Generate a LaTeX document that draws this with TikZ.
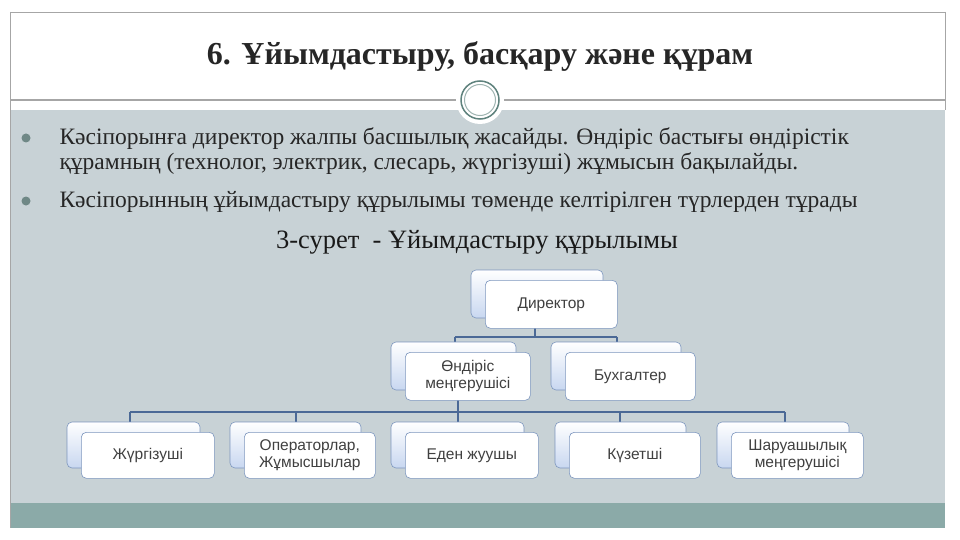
\documentclass[tikz,border=0pt]{standalone}
\usepackage{fontspec}
\setmainfont{Liberation Serif}
\newfontfamily\boxfont{Liberation Sans}
\usetikzlibrary{positioning}
\definecolor{bodygray}{RGB}{200,210,214}
\definecolor{barteal}{RGB}{139,170,168}
\definecolor{boxline}{RGB}{125,150,190}
\definecolor{conn}{RGB}{75,105,150}
\definecolor{backfill}{RGB}{200,215,240}
\definecolor{ring}{RGB}{95,130,125}
\tikzset{
 backbox/.style={draw=boxline, rounded corners=5pt, top color=white, bottom color=backfill, line width=0.6pt},
 frontbox/.style={draw=boxline, rounded corners=5pt, fill=white, line width=0.6pt, font=\boxfont\fontsize{15.5}{17}\selectfont, text=black!75, align=center},
 connector/.style={draw=conn, line width=2pt},
 bullettext/.style={anchor=west, font=\fontsize{23.5}{26}\selectfont, text=black!85},
}
\begin{document}
\begin{tikzpicture}[x=1pt,y=-1pt]
\useasboundingbox (0,0) rectangle (960,540);
\fill[white] (0,0) rectangle (960,540);
\fill[bodygray] (10,110) rectangle (945,503);
\fill[barteal] (10,503) rectangle (945,528);
\draw[gray!70, line width=0.8pt] (10,12) -- (945,12);
\draw[gray!70, line width=0.8pt] (10,12) -- (10,528);
\draw[gray!70, line width=0.8pt] (945,12) -- (945,110);
\draw[gray!70, line width=1.5pt] (10,100) -- (945,100);
\node[font=\bfseries\fontsize{32}{34}\selectfont, text=black!85] (title) at (480,57) {6. Ұйымдастыру, басқару және құрам};
\fill[white] (480,100) circle (24);
\draw[ring, line width=1.5pt] (480,100) circle (19);
\draw[ring!60, line width=1pt] (480,100) circle (15.5);
\fill[barteal!80!black] (26,138) circle (4.5);
\fill[barteal!80!black] (26,201) circle (4.5);
\node[bullettext] (b1) at (56,139) {Кәсіпорынға директор жалпы басшылық жасайды. Өндіріс бастығы өндірістік};
\node[bullettext] (b2) at (56,164) {құрамның (технолог, электрик, слесарь, жүргізуші) жұмысын бақылайды.};
\node[bullettext] (b3) at (56,202) {Кәсіпорынның ұйымдастыру құрылымы төменде келтірілген түрлерден тұрады};
\node[font=\fontsize{26.5}{28}\selectfont, text=black!90] (cap) at (477,242) {3-сурет \ - Ұйымдастыру құрылымы};
% connectors
\coordinate (j1) at (535,337);
\coordinate (j2) at (458,412);
\draw[connector] (535,328) -- (j1);
\draw[connector] (455,337) -- (617,337);
\draw[connector] (455,337) -- (455,343);
\draw[connector] (617,337) -- (617,343);
\draw[connector] (458,400) -- (j2);
\draw[connector] (130,412) -- (785,412);
\foreach \x in {130,296,458,620,785} \draw[connector] (\x,412) -- (\x,422);
% boxes
\newcommand{\orgbox}[6]{%
 \draw[backbox] (#1-14,#2-10) rectangle (#3-14,#4-10);
 \node[frontbox, minimum width=#3-#1, minimum height=#4-#2, anchor=north west] (#5) at (#1,#2) {#6};}
\orgbox{485}{280}{617}{328}{dir}{Директор}
\orgbox{405}{352}{530}{400}{ond}{Өндіріс\\меңгерушісі}
\orgbox{565}{352}{695}{400}{buh}{Бухгалтер}
\orgbox{81}{432}{214}{478}{c1}{Жүргізуші}
\orgbox{244}{432}{375}{478}{c2}{Операторлар,\\Жұмысшылар}
\orgbox{405}{432}{538}{478}{c3}{Еден жуушы}
\orgbox{569}{432}{700}{478}{c4}{Күзетші}
\orgbox{731}{432}{863}{478}{c5}{Шаруашылық\\меңгерушісі}
\end{tikzpicture}
\end{document}
